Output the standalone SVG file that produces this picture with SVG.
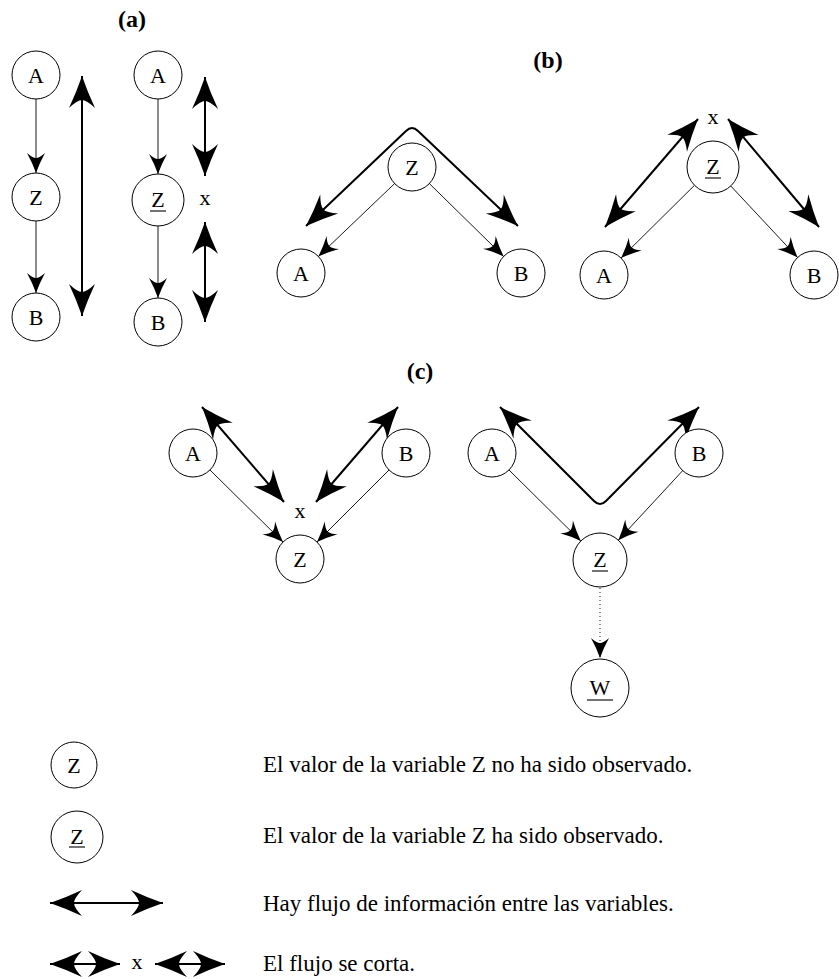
<svg xmlns="http://www.w3.org/2000/svg" width="839" height="979" viewBox="0 0 839 979">
<style>
text{font-family:"Liberation Serif","DejaVu Serif",serif;font-size:22px;fill:#000}
.t{text-anchor:middle}
.h{font-weight:bold;font-size:24px;text-anchor:middle}
.n{fill:#fff;stroke:#000;stroke-width:1}
.u{stroke:#000;stroke-width:1.1}
.thin{fill:none;stroke:#000;stroke-width:0.9;marker-end:url(#ah)}
.dot{fill:none;stroke:#000;stroke-width:0.9;stroke-dasharray:1 3;marker-end:url(#ah)}
.thick{fill:none;stroke:#000;stroke-width:2;stroke-linejoin:round;marker-start:url(#AH);marker-end:url(#AH)}
.lg{font-size:23px}
</style>
<defs>
<marker id="ah" viewBox="-21 -10 22 20" refX="0" refY="0" markerWidth="22" markerHeight="20" markerUnits="userSpaceOnUse" orient="auto-start-reverse" overflow="visible">
<path d="M0,0 Q-10,-3.5 -20,-9 Q-15,-3.5 -15,0 Q-15,3.5 -20,9 Q-10,3.5 0,0 Z" fill="#000"/>
</marker>
<marker id="AH" viewBox="-33 -14 34 28" refX="0" refY="0" markerWidth="34" markerHeight="28" markerUnits="userSpaceOnUse" orient="auto-start-reverse" overflow="visible">
<path d="M0,0 Q-16,-5.5 -32,-13 Q-24,-4.5 -24,0 Q-24,4.5 -32,13 Q-16,5.5 0,0 Z" fill="#000"/>
</marker>
</defs>

<!-- titles -->
<text class="h" x="132" y="27">(a)</text>
<text class="h" x="548" y="68">(b)</text>
<text class="h" x="420" y="379">(c)</text>

<g id="connectors">
<!-- (a) left -->
<line class="thin" x1="36" y1="99" x2="36" y2="173"/>
<line class="thin" x1="36" y1="221" x2="36" y2="293"/>
<line class="thick" x1="82" y1="76" x2="82" y2="316"/>
<!-- (a) right -->
<line class="thin" x1="158" y1="99" x2="158" y2="174"/>
<line class="thin" x1="158" y1="226" x2="158" y2="298"/>
<line class="thick" x1="205" y1="77" x2="205" y2="176"/>
<line class="thick" x1="205" y1="222" x2="205" y2="322"/>
<!-- (b) left -->
<line class="thin" x1="394.6" y1="183.6" x2="318.4" y2="256.4"/>
<line class="thin" x1="429.4" y1="183.6" x2="503.6" y2="256.4"/>
<path class="thick" d="M306,226 L406,131 Q412,125 418,131 L518,226"/>
<!-- (b) right -->
<line class="thin" x1="694.5" y1="185.3" x2="621" y2="258.1"/>
<line class="thin" x1="730.8" y1="186" x2="797.6" y2="257.5"/>
<line class="thick" x1="698" y1="119" x2="605" y2="227"/>
<line class="thick" x1="728" y1="119" x2="819" y2="227"/>
<!-- (c) left -->
<line class="thin" x1="210" y1="470" x2="283" y2="542"/>
<line class="thin" x1="389" y1="470" x2="317" y2="542"/>
<line class="thick" x1="202" y1="407" x2="284" y2="502"/>
<line class="thick" x1="398" y1="407" x2="316" y2="502"/>
<!-- (c) right -->
<line class="thin" x1="509" y1="470" x2="580.8" y2="541"/>
<line class="thin" x1="682.7" y1="470.6" x2="618.3" y2="540.2"/>
<path class="thick" d="M500,407 L594,501 Q600,507 606,501 L699,407"/>
<line class="dot" x1="600" y1="588" x2="600" y2="658"/>
<!-- legend -->
<line class="thick" x1="50" y1="903" x2="163" y2="903"/>
<line class="thick" x1="50" y1="964" x2="120" y2="964"/>
<line class="thick" x1="155" y1="964" x2="225" y2="964"/>
</g>

<!-- (a) nodes -->
<g id="a-A1"><circle class="n" cx="36" cy="75" r="24"/><text class="t" x="36" y="82.5">A</text></g>
<g id="a-Z1"><circle class="n" cx="36" cy="197" r="24"/><text class="t" x="36" y="204.5">Z</text></g>
<g id="a-B1"><circle class="n" cx="36" cy="317" r="24"/><text class="t" x="36" y="324.5">B</text></g>
<g id="a-A2"><circle class="n" cx="158" cy="75" r="24"/><text class="t" x="158" y="82.5">A</text></g>
<g id="a-Z2"><circle class="n" cx="158" cy="200" r="26"/><text class="t" x="158" y="207">Z</text><line class="u" x1="150" y1="211" x2="166" y2="211"/></g>
<g id="a-B2"><circle class="n" cx="158" cy="322" r="24"/><text class="t" x="158" y="329.5">B</text></g>
<text class="t" x="205" y="205">x</text>

<!-- (b) nodes -->
<g id="b-Z1"><circle class="n" cx="412" cy="167" r="24"/><text class="t" x="412" y="174.5">Z</text></g>
<g id="b-A1"><circle class="n" cx="301" cy="273" r="24"/><text class="t" x="301" y="280.5">A</text></g>
<g id="b-B1"><circle class="n" cx="521" cy="273" r="24"/><text class="t" x="521" y="280.5">B</text></g>
<g id="b-Z2"><circle class="n" cx="713" cy="167" r="26"/><text class="t" x="713" y="174">Z</text><line class="u" x1="705" y1="178" x2="721" y2="178"/></g>
<g id="b-A2"><circle class="n" cx="604" cy="275" r="24"/><text class="t" x="604" y="282.5">A</text></g>
<g id="b-B2"><circle class="n" cx="814" cy="275" r="24"/><text class="t" x="814" y="282.5">B</text></g>
<text class="t" x="713" y="124">x</text>

<!-- (c) nodes -->
<g id="c-A1"><circle class="n" cx="193" cy="453" r="24"/><text class="t" x="193" y="460.5">A</text></g>
<g id="c-B1"><circle class="n" cx="406" cy="453" r="24"/><text class="t" x="406" y="460.5">B</text></g>
<g id="c-Z1"><circle class="n" cx="300" cy="559" r="24"/><text class="t" x="300" y="566.5">Z</text></g>
<text class="t" x="300" y="518">x</text>
<g id="c-A2"><circle class="n" cx="492" cy="453" r="24"/><text class="t" x="492" y="460.5">A</text></g>
<g id="c-B2"><circle class="n" cx="699" cy="453" r="24"/><text class="t" x="699" y="460.5">B</text></g>
<g id="c-Z2"><circle class="n" cx="600" cy="560" r="27"/><text class="t" x="600" y="567">Z</text><line class="u" x1="592" y1="571" x2="608" y2="571"/></g>
<g id="c-W"><circle class="n" cx="600" cy="688" r="29"/><text class="t" x="600" y="695">W</text><line class="u" x1="587" y1="700" x2="613" y2="700"/></g>

<!-- legend -->
<g id="leg-Z"><circle class="n" cx="74" cy="765" r="23"/><text class="t" x="74" y="772.5">Z</text></g>
<g id="leg-Zu"><circle class="n" cx="77" cy="837" r="26"/><text class="t" x="77" y="844">Z</text><line class="u" x1="69" y1="847" x2="85" y2="847"/></g>
<text class="t" x="137" y="969">x</text>
<g id="legend-text">
<text class="lg" x="263" y="772">El valor de la variable Z no ha sido observado.</text>
<text class="lg" x="263" y="843">El valor de la variable Z ha sido observado.</text>
<text class="lg" x="263" y="911">Hay flujo de información entre las variables.</text>
<text class="lg" x="263" y="971">El flujo se corta.</text>
</g>
</svg>
